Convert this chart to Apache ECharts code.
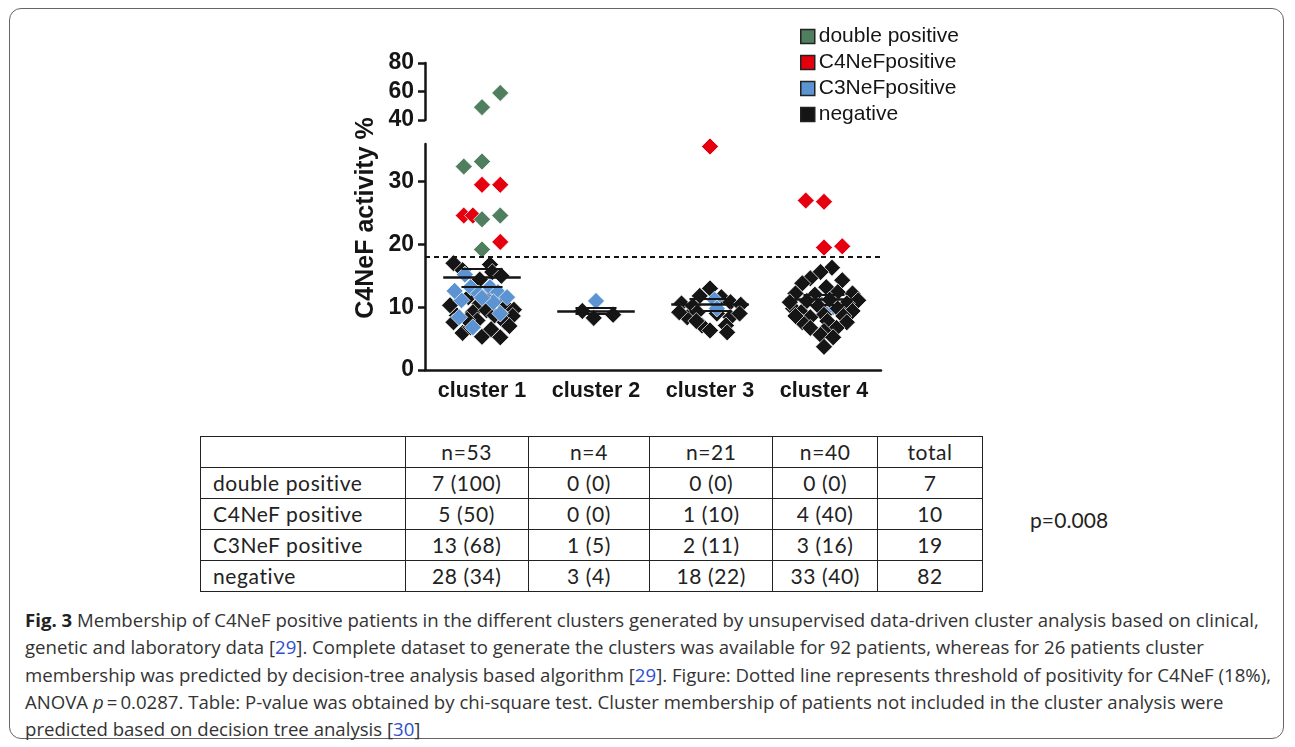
<!DOCTYPE html>
<html>
<head>
<meta charset="utf-8">
<script src="https://cdn.jsdelivr.net/npm/echarts@6/dist/echarts.min.js"></script>
<style>
  html, body { margin: 0; padding: 0; background: #fff; }
  #page { position: relative; width: 1295px; height: 747px; overflow: hidden; background: #fff; }
  #frame { position: absolute; left: 9px; top: 8px; width: 1275px; height: 731px; border: 1.5px solid #666; border-radius: 12px; box-sizing: border-box; }
  #chart { position: absolute; left: 0; top: 0; width: 1295px; height: 430px; }
  #tbl { position: absolute; left: 200px; top: 436px; border-collapse: collapse; font-family: Lato, "Open Sans", sans-serif; font-size: 21px; letter-spacing: 0.6px; color: #222; }
  #tbl td { border: 1.5px solid #222; padding: 0; height: 30px; text-align: center; line-height: 28px; }
  #tbl td.lbl { text-align: left; padding-left: 12px; }
  #pval { position: absolute; left: 1030px; top: 507px; font-family: Lato, "Open Sans", sans-serif; font-size: 21px; letter-spacing: 0.1px; color: #222; }
  #cap { position: absolute; left: 25px; top: 606px; font-family: "Open Sans", sans-serif; font-size: 18.6px; color: #333; line-height: 27.3px; white-space: nowrap; }
  #cap b { color: #222; }
  #cap .ref { color: #2f4fd0; }
</style>
</head>
<body>
<div id="page">
  <div id="frame"></div>
  <div id="chart"></div>
  <table id="tbl"></table>
  <div id="pval">p=0.008</div>
  <div id="cap"></div>
</div>
<script>
// ---------------- data ----------------
const categories = ['cluster 1', 'cluster 2', 'cluster 3', 'cluster 4'];
const legendNames = ['double positive', 'C4NeFpositive', 'C3NeFpositive', 'negative'];

// points: [cluster number, horizontal scatter offset (fraction of category), C4NeF activity %]
const doublePosLow = [[1,-0.16,32.4],[1,0,33.2],[1,0,24.0],[1,0.16,24.6],[1,0,19.2]];
const doublePosHigh = [[1,0,49],[1,0.16,59]];
const c4nefPos = [[1,0,29.5],[1,0.16,29.5],[1,-0.16,24.6],[1,-0.08,24.6],[1,0.16,20.4],
  [3,0,35.6],
  [4,-0.16,27.0],[4,0,26.8],[4,0,19.5],[4,0.16,19.7]];
const c3nefPos = [
  [1,-0.15,15.2],[1,-0.1,13.2],[1,0.07,13.2],[1,-0.03,12.2],[1,0.14,12.4],[1,-0.18,11.1],[1,0.1,10.8],
  [1,-0.2,8.4],[1,-0.08,6.8],[1,0.16,9.0],[1,0.0,11.5],[1,-0.24,12.6],[1,0.22,11.6],
  [2,0,11.0],
  [3,0.04,11.2],[3,0.06,9.8],
  [4,-0.05,11.0],[4,0.08,10.0],[4,0.0,9.3]];
const negativeC1 = [[1,-0.25,17.0],[1,0.07,16.8],[1,-0.17,15.9],[1,0.09,15.6],[1,0.17,15.0],[1,-0.02,14.4],
  [1,-0.28,10.3],[1,-0.02,10.6],[1,0.2,10.3],[1,0.28,9.6],[1,-0.22,8.7],[1,-0.08,9.2],[1,0.04,9.5],
  [1,0.11,8.7],[1,0.27,8.6],[1,-0.25,7.6],[1,-0.04,7.9],[1,0.2,7.6],[1,-0.17,5.9],[1,0.0,5.3],
  [1,0.16,5.2],[1,-0.1,6.8],[1,0.08,6.5],[1,0.24,7.0],[1,-0.12,11.6],[1,0.12,11.2],[1,-0.13,8.0],[1,0.05,12.0]];
const negativeC2 = [[2,-0.12,9.4],[2,-0.02,8.3],[2,0.15,8.8]];
const negativeC3 = [[3,0.0,13.0],[3,-0.09,11.8],[3,0.1,11.6],[3,-0.25,10.6],[3,-0.15,10.2],[3,0.18,10.8],
  [3,0.27,10.4],[3,-0.2,8.4],[3,-0.27,9.2],[3,-0.11,9.2],[3,0.06,9.0],[3,0.18,8.4],[3,0.26,9.0],
  [3,-0.07,7.1],[3,0.14,7.1],[3,0.0,6.3],[3,0.15,6.0],[3,-0.12,7.8]];
const negativeC4 = [[4,0.07,16.3],[4,-0.03,15.6],[4,-0.12,14.6],[4,0.16,14.3],[4,-0.19,13.8],[4,0.02,13.2],
  [4,0.25,12.2],[4,-0.25,12.2],[4,-0.08,12.0],[4,0.12,12.4],[4,-0.27,9.8],[4,0.3,11.1],[4,-0.15,11.0],
  [4,0.05,11.2],[4,0.2,10.6],[4,-0.3,10.8],[4,-0.05,10.2],[4,0.12,9.8],[4,0.25,9.4],[4,-0.2,9.2],
  [4,0.0,8.8],[4,0.17,8.6],[4,-0.12,8.4],[4,-0.19,7.6],[4,0.2,7.6],[4,0.03,7.8],[4,-0.12,6.7],
  [4,0.11,6.7],[4,0.0,6.2],[4,-0.03,5.6],[4,0.08,5.2],[4,0,3.7],[4,-0.25,8.6]];

const means = [14.8, 9.4, 10.4, 11.2];
const semHigh = [16.2, 9.9, 11.4, 12.0];
const semLow = [13.3, 8.9, 9.4, 10.4];
const threshold = 18;

const lowerTicks = { min: 0, max: 36, interval: 10 };
const upperTicks = { min: 40, max: 80, interval: 20 };

// table
const tableHeader = ['', 'n=53', 'n=4', 'n=21', 'n=40', 'total'];
const tableRowLabels = ['double positive', 'C4NeF positive', 'C3NeF positive', 'negative'];
const tableCells = [
  ['7 (100)', '0 (0)', '0 (0)', '0 (0)', '7'],
  ['5 (50)', '0 (0)', '1 (10)', '4 (40)', '10'],
  ['13 (68)', '1 (5)', '2 (11)', '3 (16)', '19'],
  ['28 (34)', '3 (4)', '18 (22)', '33 (40)', '82']
];
const captionLines = [
  '<b>Fig. 3</b> Membership of C4NeF positive patients in the different clusters generated by unsupervised data-driven cluster analysis based on clinical,',
  'genetic and laboratory data [<span class="ref">29</span>]. Complete dataset to generate the clusters was available for 92 patients, whereas for 26 patients cluster',
  'membership was predicted by decision-tree analysis based algorithm [<span class="ref">29</span>]. Figure: Dotted line represents threshold of positivity for C4NeF (18%),',
  'ANOVA <i>p</i>&thinsp;=&thinsp;0.0287. Table: P-value was obtained by chi-square test. Cluster membership of patients not included in the cluster analysis were',
  'predicted based on decision tree analysis [<span class="ref">30</span>]'
];

// ---------------- build table & caption ----------------
(function () {
  const colW = [205, 123, 122, 123, 105, 105];
  const tbl = document.getElementById('tbl');
  let html = '<colgroup>' + colW.map(w => '<col style="width:' + w + 'px">').join('') + '</colgroup>';
  html += '<tr>' + tableHeader.map(h => '<td>' + h + '</td>').join('') + '</tr>';
  tableRowLabels.forEach((lab, i) => {
    html += '<tr><td class="lbl">' + lab + '</td>' + tableCells[i].map(c => '<td>' + c + '</td>').join('') + '</tr>';
  });
  tbl.innerHTML = html;
  tbl.style.width = colW.reduce((a, b) => a + b, 0) + 'px';
  document.getElementById('cap').innerHTML = captionLines.map(l => '<div>' + l + '</div>').join('');
})();

// ---------------- chart ----------------
const toXY = arr => arr.map(p => [p[0] + p[1], p[2]]);
const axisColor = '#151515';
const fontFam = 'Liberation Sans, Arial, sans-serif';
const yLabelFont = { fontFamily: fontFam, fontWeight: 'bold', fontSize: 23, color: '#151515' };
const xLabelFont = { fontFamily: fontFam, fontWeight: 'bold', fontSize: 21.5, color: '#151515' };
const symSize = 17;
const colors = { dp: '#4f7f5e', c4: '#e6000f', c3: '#5b93d3', neg: '#151515' };

function scatter(name, data, color, xi, yi, z) {
  return {
    name: name, type: 'scatter', xAxisIndex: xi, yAxisIndex: yi, z: z,
    symbol: 'diamond', symbolSize: symSize, data: toXY(data),
    itemStyle: { color: color, opacity: 1, borderColor: '#ffffff', borderWidth: 0.7 },
    emphasis: { disabled: true }, silent: true
  };
}

const lineData = [];
means.forEach((m, i) => {
  lineData.push([{ coord: [i + 1 - 0.34, m], lineStyle: { width: 2.5 } }, { coord: [i + 1 + 0.34, m] }]);
  lineData.push([{ coord: [i + 1 - 0.18, semHigh[i]], lineStyle: { width: 2 } }, { coord: [i + 1 + 0.18, semHigh[i]] }]);
  lineData.push([{ coord: [i + 1 - 0.18, semLow[i]], lineStyle: { width: 2 } }, { coord: [i + 1 + 0.18, semLow[i]] }]);
});
lineData.push({ yAxis: threshold, lineStyle: { type: [5, 4], width: 2.2, color: '#151515' } });

const chart = echarts.init(document.getElementById('chart'), null, { renderer: 'canvas' });
chart.setOption({
  animation: false,
  backgroundColor: 'transparent',
  grid: [
    { left: 425, top: 144, width: 456, height: 226 },
    { left: 425, top: 63, width: 456, height: 57 }
  ],
  legend: {
    data: legendNames, orient: 'vertical', left: 795, top: 21,
    icon: 'rect', itemWidth: 14, itemHeight: 14, itemGap: 5,
    itemStyle: { borderColor: '#222', borderWidth: 1.5 },
    textStyle: { fontFamily: fontFam, fontSize: 21, color: '#151515', padding: [0, 0, 0, -1] },
    selectedMode: false
  },
  xAxis: [
    { gridIndex: 0, type: 'category', data: categories,
      axisLine: { lineStyle: { color: axisColor, width: 2.5 } },
      axisTick: { alignWithLabel: true, length: 7, lineStyle: { color: axisColor, width: 2.5 } },
      axisLabel: Object.assign({ margin: 10, interval: 0, hideOverlap: false }, xLabelFont), splitLine: { show: false } },
    { gridIndex: 0, type: 'value', min: 0.5, max: 4.5, show: false },
    { gridIndex: 1, type: 'value', min: 0.5, max: 4.5, show: false }
  ],
  yAxis: [
    { gridIndex: 0, type: 'value', min: lowerTicks.min, max: lowerTicks.max, interval: lowerTicks.interval,
      axisLine: { show: true, lineStyle: { color: axisColor, width: 2.5 } },
      axisTick: { show: true, length: 7, lineStyle: { color: axisColor, width: 2.5 } },
      axisLabel: Object.assign({ margin: 11, showMaxLabel: false }, yLabelFont), splitLine: { show: false } },
    { gridIndex: 1, type: 'value', min: upperTicks.min, max: upperTicks.max, interval: upperTicks.interval,
      axisLine: { show: true, lineStyle: { color: axisColor, width: 2.5 } },
      axisTick: { show: true, length: 7, lineStyle: { color: axisColor, width: 2.5 } },
      axisLabel: Object.assign({ margin: 11 }, yLabelFont), splitLine: { show: false } }
  ],
  series: [
    scatter('negative', negativeC1.concat(negativeC2, negativeC3), colors.neg, 1, 0, 2),
    scatter('C3NeFpositive', c3nefPos, colors.c3, 1, 0, 3),
    scatter('negative', negativeC4, colors.neg, 1, 0, 4),
    scatter('C4NeFpositive', c4nefPos, colors.c4, 1, 0, 4),
    scatter('double positive', doublePosLow, colors.dp, 1, 0, 4),
    scatter('double positive', doublePosHigh, colors.dp, 2, 1, 4),
    { name: 'lines', type: 'scatter', xAxisIndex: 1, yAxisIndex: 0, data: [], z: 6, silent: true,
      markLine: { silent: true, symbol: ['none', 'none'], label: { show: false }, animation: false,
        lineStyle: { color: '#151515', type: 'solid', width: 2 }, emphasis: { disabled: true },
        data: lineData } }
  ],
  graphic: [
    { type: 'text', x: 366, y: 218, rotation: Math.PI / 2,
      style: { text: 'C4NeF activity %', fill: '#151515', align: 'center', verticalAlign: 'middle',
        font: 'bold 25px "Liberation Sans", Arial, sans-serif' } }
  ]
});
</script>
</body>
</html>
